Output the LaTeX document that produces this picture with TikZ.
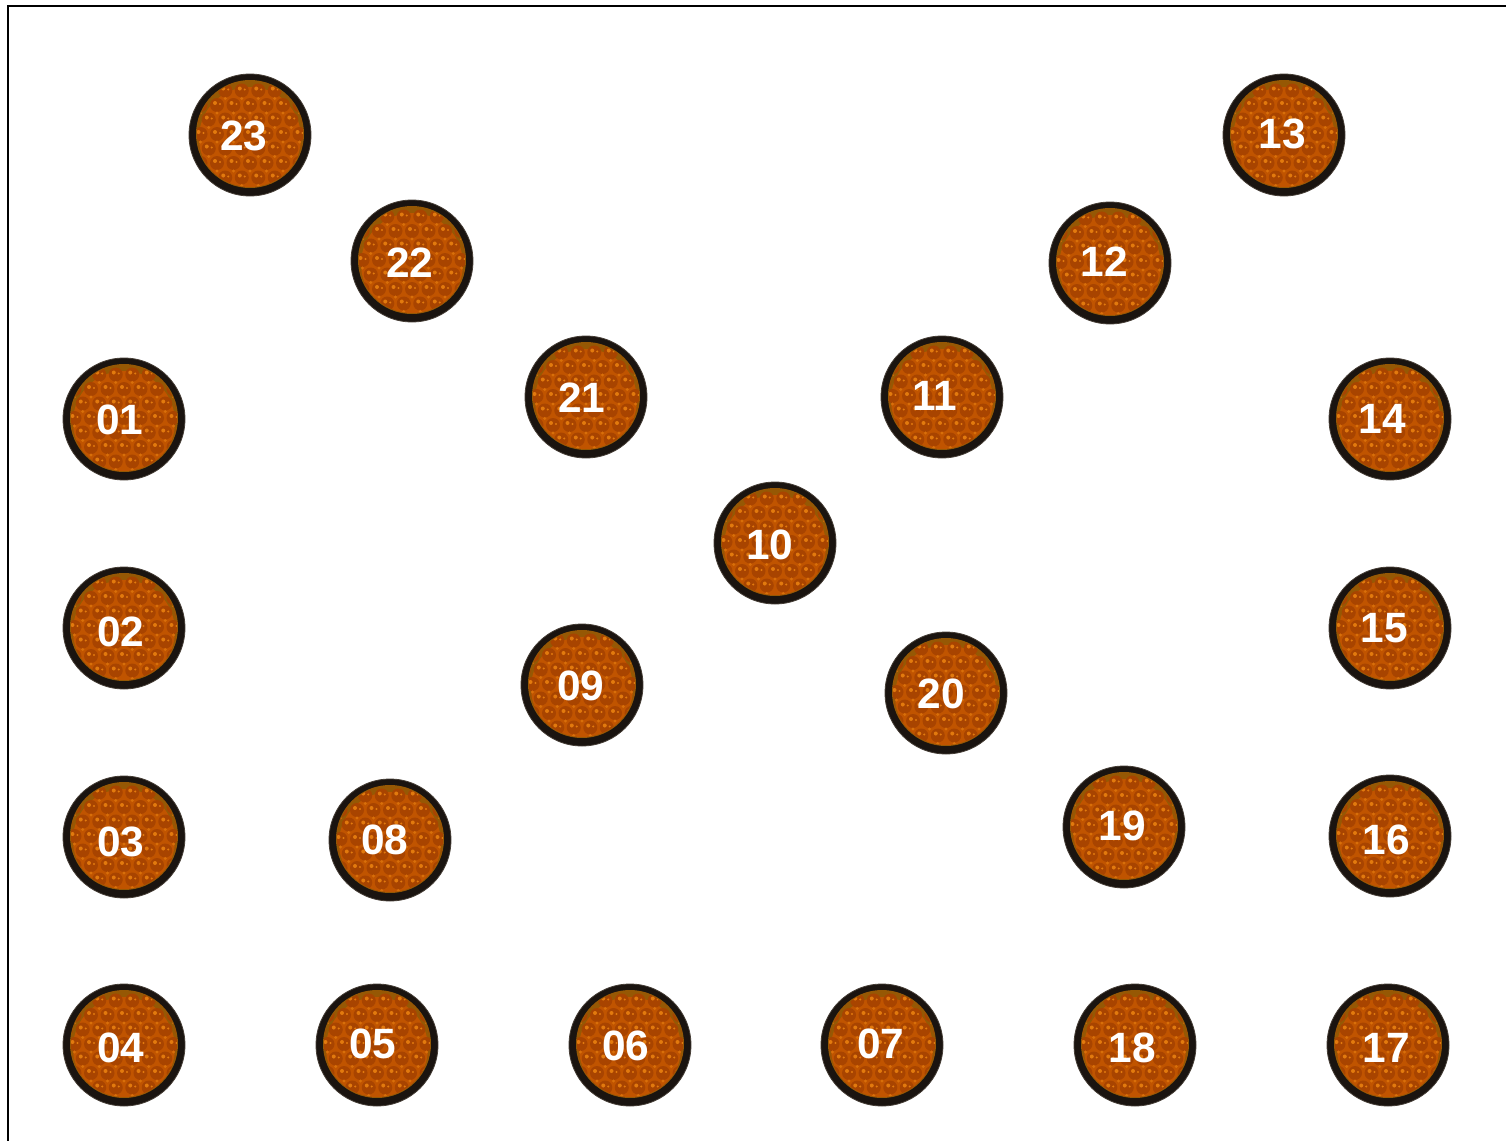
\documentclass[tikz,border=0pt]{standalone}
\usepackage{fontspec}
\setmainfont{Liberation Sans}
\definecolor{rim}{RGB}{26,20,16}
\definecolor{rimlight}{RGB}{70,62,54}
\definecolor{lens}{RGB}{192,84,0}
\definecolor{lensedge}{RGB}{150,88,4}
\definecolor{bead}{RGB}{168,68,0}
\definecolor{glint}{RGB}{226,122,14}
\tikzset{
  x=0.5pt,y=-0.5pt,
  frameline/.style={black,line width=1pt},
  lampbase/.style={circle,fill=rim,draw=rimlight,line width=0.4pt,minimum size=61pt,inner sep=0pt},
  num/.style={text=white,font=\fontsize{21.2}{21}\selectfont\bfseries,inner sep=0pt},
  % pictogram
  pics/lens/.style={code={
    \fill[lensedge] (0,-1) circle (54);
    \begin{scope}
      \clip (0,-1) circle (53);
      \fill[lens] (0,3) circle (51);
      \foreach \r in {-3,...,3}{
        \foreach \k in {-4,...,4}{
          \fill[bead] ({\k*16.5+mod(\r+4,2)*8.25},{\r*14.5-1}) circle (7);
          \fill[glint] ({\k*16.5+mod(\r+4,2)*8.25-2},{\r*14.5-3}) circle (2);
          \fill[glint] ({\k*16.5+mod(\r+4,2)*8.25+3},{\r*14.5-2}) circle (1.2);
          \fill[glint!70!lens] ({\k*16.5+mod(\r+4,2)*8.25},{\r*14.5+7}) circle (1.6);
        }
      }
    \end{scope}
  }},
}
\begin{document}
\begin{tikzpicture}
  \useasboundingbox (0,0) rectangle (1506,1141);
  \draw[frameline] (8,1141) -- (8,6) -- (1506,6);
  \foreach \x/\y/\tx/\ty/\n in {250/135/244/136/23,412/261/410/263/22,586/397/582/398/21,
    124/419/120/420/01,942/397/935/396/11,1110/263/1104/262/12,1284/135/1282/134/13,
    1390/419/1382/419/14,775/543/770/545/10,124/628/121/632/02,582/685/581/686/09,
    946/693/941/694/20,1390/628/1384/628/15,124/837/121/842/03,390/840/385/840/08,
    1124/827/1122/826/19,1390/836/1386/840/16,124/1045/121/1048/04,377/1045/373/1044/05,
    630/1045/626/1046/06,882/1045/881/1044/07,1135/1045/1132/1048/18,1388/1045/1386/1048/17}{
    \node[lampbase] (lamp\n) at (\x,\y) {};
    \pic at (\x,\y) {lens};
    \node[num] (num\n) at (\tx,\ty) {\n};
  }
\end{tikzpicture}
\end{document}
